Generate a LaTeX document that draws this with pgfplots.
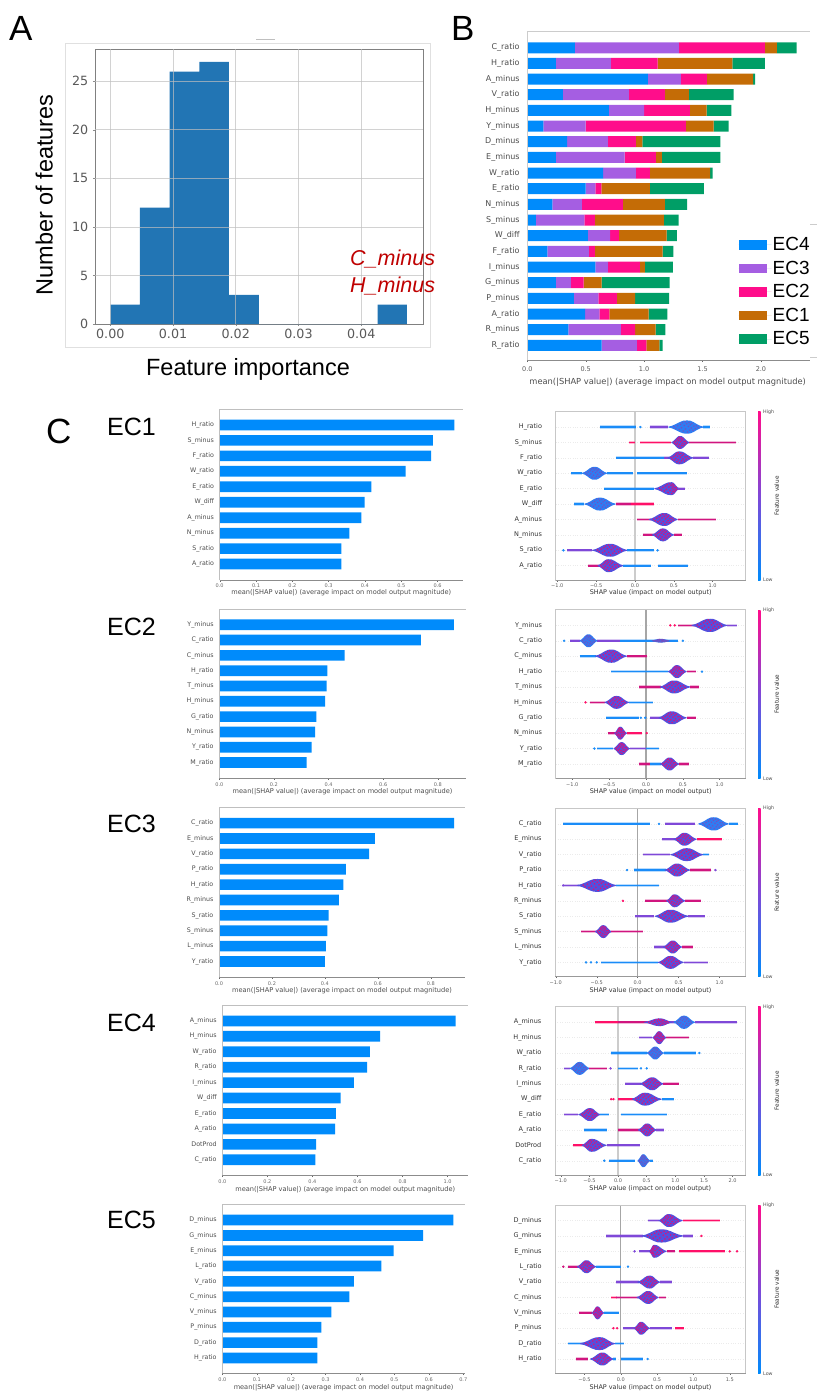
\documentclass[border=0pt]{standalone}
\usepackage{fontspec}
\setmainfont{DejaVu Sans}
\newfontfamily\ar{Liberation Sans}
\usepackage{pgfplots}
\usepackage{pgfplotstable}
\pgfplotsset{compat=1.18}
\definecolor{cEC4}{HTML}{008BFB}
\definecolor{cEC3}{HTML}{A55EE2}
\definecolor{cEC2}{HTML}{FF0D8B}
\definecolor{cEC1}{HTML}{C46C06}
\definecolor{cEC5}{HTML}{009E66}
\definecolor{histb}{HTML}{2275B4}
\definecolor{tb}{HTML}{1A8CF8}
\definecolor{tp}{HTML}{7F48D8}
\definecolor{tm}{HTML}{D0157F}
\definecolor{tr}{HTML}{FF1068}
\definecolor{vp}{HTML}{5350DE}
\definecolor{vb}{HTML}{2F7CF2}
\definecolor{spk}{HTML}{D8127F}
\definecolor{tickc}{HTML}{666666}
\newcommand\fs[1]{\fontsize{#1}{#1}\selectfont}
\pgfplotstableread{
t u
-1 .06
-.8 .2
-.6 .45
-.4 .75
-.2 .96
0 1
.2 .96
.4 .75
.6 .45
.8 .2
1 .06
1 -.06
.8 -.2
.6 -.45
.4 -.75
.2 -.96
0 -1
-.2 -.96
-.4 -.75
-.6 -.45
-.8 -.2
-1 -.06
}\vshape
\pgfplotstableread{
t u
-.7 .05
-.6 -.2
-.5 .2
-.42 -.35
-.35 .4
-.3 -.1
-.25 .65
-.2 -.6
-.15 .25
-.1 .8
-.08 -.3
-.02 .5
.03 -.75
.08 .1
.12 .7
.16 -.45
.2 .35
.26 -.15
.3 .55
.36 -.5
.42 .15
.5 -.25
.58 .2
.68 -.08
}\vspeck
\newcommand\tl[4]{\addplot[color=#4,opacity=.3,line width=3.2pt,forget plot] coordinates {(#2,#1)(#3,#1)};\addplot[color=#4,line width=1.7pt,forget plot] coordinates {(#2,#1)(#3,#1)};}
\newcommand\dt[3]{\addplot[only marks,mark=*,mark size=1pt,color=#3,forget plot] coordinates {(#2,#1)};}
% row, left, centre, right, half height, fill, speckle opacity
\newcommand\vl[7]{%
\addplot[fill=#6,draw=none,forget plot] table[x expr={\thisrow{t}<0 ? #3+\thisrow{t}*(#3-(#2)) : #3+\thisrow{t}*(#4-(#3))},y expr={#1+\thisrow{u}*#5}] {\vshape};
\addplot[only marks,mark=*,mark size=.6pt,color=spk,opacity=#7,forget plot] table[x expr={\thisrow{t}<0 ? #3+\thisrow{t}*(#3-(#2)) : #3+\thisrow{t}*(#4-(#3))},y expr={#1+\thisrow{u}*#5}] {\vspeck};}
\newcommand\zl[4]{\addplot[color=#1,line width=#2,forget plot] coordinates {(0,#3)(0,#4)};}
\newcommand\vP[5]{\vl{#1}{#2}{#3}{#4}{#5}{vp}{.9}}
\newcommand\vB[5]{\vl{#1}{#2}{#3}{#4}{#5}{vb}{.25}}
\newcommand\meanl{mean(|SHAP value|) (average impact on model output magnitude)}
\newcommand\shapl{SHAP value (impact on model output)}
\pgfplotsset{
 base/.style={scale only axis,axis line style={draw=none},tick align=outside,xtick pos=lower,ytick pos=left,
  ytick style={draw=none},xtick style={color=tickc,line width=.4pt},major tick length=1.5pt,
  tick label style={inner sep=0pt}},
 xlab/.style={xlabel style={at={(axis description cs:.5,0)},anchor=center,yshift=-#1,font=\fs{6.6},text=black!70}},
 xlabb/.style={xlabel style={at={(axis description cs:.5,0)},anchor=center,yshift=-#1,font=\fs{6.45},text=black!80}},
 spn/.style={after end axis/.code={
   \draw[color=#1,line width=.7pt] (rel axis cs:0,1)--(rel axis cs:1,1);
   \draw[color=#1,line width=.7pt] (rel axis cs:0,0)--(rel axis cs:0,1);
   \draw[color=black!45,line width=.9pt] (rel axis cs:0,0)--(rel axis cs:1,0);}},
 bee/.style={after end axis/.code={
   \draw[color=black!22,line width=.7pt] (rel axis cs:0,0) rectangle (rel axis cs:1,1);
   \draw[color=black!40,line width=.9pt] (rel axis cs:0,0)--(rel axis cs:1,0);}},
 shapbar/.style={base,spn=black!25,xbar,bar shift=0pt,bar width=10.7pt,ytick={0,...,9},ymin=-1.03,ymax=10.03,
  yticklabel style={font=\fs{6.3},text=black!70,xshift=-4pt},xticklabel style={font=\fs{5},text=black!60,yshift=-2.5pt}},
 shapbee/.style={base,bee,ytick={0,...,9},ymajorgrids,grid style={color=black!8,dotted,line width=.4pt},
  yticklabel style={font=\fs{6.5},text=black!80,xshift=-12pt},xticklabel style={font=\fs{5},text=black!65,yshift=-2.5pt},
  width=190pt,height=168.5pt},
}
\newcommand\cbar[2]{%
 \shade[bottom color=cEC4,top color=cEC2,middle color=tp] (758pt,-#2pt) rectangle (760.5pt,-#1pt);
 \node[anchor=west,inner sep=0pt,font=\fs{4.8},text=black!70] at (763pt,-#1pt) {High};
 \node[anchor=west,inner sep=0pt,font=\fs{4.8},text=black!70] at (763pt,-#2pt) {Low};
 \pgfmathsetmacro\mid{(#1+#2)/2}
 \node[rotate=90,inner sep=0pt,font=\fs{5.7},text=black!85] at (776.7pt,-\mid pt) {Feature value};}
\pgfplotstableread{
row ec4 ec3 ec2 ec1 ec5
19 .408 .890 .736 .103 .168
18 .245 .471 .400 .639 .279
17 1.033 .282 .223 .396 .017
16 .305 .565 .308 .206 .382
15 .699 .300 .393 .143 .211
14 .137 .362 .859 .237 .128
13 .340 .350 .240 .054 .668
12 .245 .588 .268 .052 .499
11 .650 .280 .120 .516 .020
10 .499 .083 .051 .417 .462
9 .214 .254 .351 .359 .191
8 .074 .414 .091 .591 .125
7 .519 .189 .079 .406 .088
6 .171 .357 .051 .579 .092
5 .582 .108 .274 .043 .240
4 .245 .129 .108 .154 .582
3 .399 .209 .159 .157 .291
2 .496 .120 .086 .337 .159
1 .351 .451 .120 .176 .083
0 .636 .303 .080 .111 .028
}\tabB
\begin{document}
\begin{tikzpicture}
\useasboundingbox (0,0) rectangle (817pt,-1393pt);
% panel letters
\node[anchor=west,inner sep=0pt,font=\ar\fs{35}] at (9pt,-28pt) {A};
\node[anchor=west,inner sep=0pt,font=\ar\fs{35}] at (451pt,-28pt) {B};
\node[anchor=west,inner sep=0pt,font=\ar\fs{35}] at (46pt,-431pt) {C};
\node[anchor=west,inner sep=0pt,font=\ar\fs{25}] at (107pt,-426.7pt) {EC1};
\node[anchor=west,inner sep=0pt,font=\ar\fs{25}] at (107pt,-626.7pt) {EC2};
\node[anchor=west,inner sep=0pt,font=\ar\fs{25}] at (107pt,-824pt) {EC3};
\node[anchor=west,inner sep=0pt,font=\ar\fs{25}] at (107pt,-1022.7pt) {EC4};
\node[anchor=west,inner sep=0pt,font=\ar\fs{25}] at (107pt,-1220.3pt) {EC5};
% A
\draw[color=black!12,line width=.7pt] (65.7pt,-43pt) rectangle (430pt,-347pt);
\draw[color=black!25,line width=.7pt] (256pt,-39.5pt)--(275pt,-39.5pt);
\begin{axis}[scale only axis,at={(95pt,-324pt)},anchor=south west,width=328.3pt,height=274.7pt,
 xmin=-.00244,xmax=.0499,ymin=0,ymax=28.3,scaled x ticks=false,
 xtick={0,.01,.02,.03,.04},xticklabels={0.00,0.01,0.02,0.03,0.04},ytick={0,5,10,15,20,25},
 /pgf/number format/assume math mode=true,
 tick label style={font=\fs{12.7},text=black!65,inner sep=0pt},xticklabel style={yshift=-3pt},yticklabel style={xshift=-4.5pt},
 tick align=outside,major tick length=2pt,tick style={color=black!45,line width=.5pt},xtick pos=lower,ytick pos=left,
 axis line style={color=black!50,line width=.9pt},
 xlabel={Feature importance},ylabel={Number of features},
 xlabel style={at={(axis description cs:.466,-.164)},anchor=center,font=\ar\fs{23.5},text=black},
 ylabel style={at={(axis description cs:-.155,.47)},anchor=center,font=\ar\fs{23.5},text=black},
 after end axis/.code={
  \foreach \gx in {.01,.02,.03,.04,0}{\draw[color=black!25,opacity=.7,line width=.8pt] (axis cs:\gx,0)--(axis cs:\gx,28.3);}
  \foreach \gy in {5,10,15,20,25}{\draw[color=black!25,opacity=.7,line width=.8pt] (axis cs:-.00244,\gy)--(axis cs:.0499,\gy);}}]
\addplot[ybar interval,fill=histb,draw=none] coordinates {(0,2)(.00473,12)(.00946,26)(.0142,27)(.0189,3)(.0237,0)(.0284,0)(.0331,0)(.0378,0)(.0426,2)(.0473,2)};
\end{axis}
\node[anchor=west,inner sep=0pt,font=\ar\itshape\fs{21.5},text=red!75!black] at (350pt,-259pt) {C\_minus};
\node[anchor=west,inner sep=0pt,font=\ar\itshape\fs{21.5},text=red!75!black] at (350pt,-286pt) {H\_minus};
% B
\begin{axis}[base,at={(527.3pt,-360.7pt)},anchor=south west,width=282.7pt,height=329.4pt,
 xbar stacked,bar width=11pt,xmin=0,xmax=2.42,ymin=-.98,ymax=20.05,
 spn=black!20,
 xtick={0,.5,1,1.5,2},xticklabels={0.0,0.5,1.0,1.5,2.0},ytick={0,...,19},
 yticklabels={R\_ratio,R\_minus,A\_ratio,P\_minus,G\_minus,I\_minus,F\_ratio,W\_diff,S\_minus,N\_minus,E\_ratio,W\_ratio,E\_minus,D\_minus,Y\_minus,H\_minus,V\_ratio,A\_minus,H\_ratio,C\_ratio},
 yticklabel style={font=\fs{8},text=black!70,xshift=-6pt},xticklabel style={font=\fs{6.5},text=black!65,yshift=-4.5pt},
 xlabel={\meanl},xlabel style={at={(axis description cs:.5,0)},anchor=center,yshift=-22pt,xshift=-1pt,font=\fs{8.3},text=black!70},
 legend style={at={(rel axis cs:.747,.378)},anchor=north west,draw=none,fill=none,font=\ar\fs{19},inner sep=0pt,row sep=6.8pt,nodes={inner sep=1pt}},
 legend cell align=left,
 legend image code/.code={\fill[#1] (0pt,-4.75pt) rectangle (28pt,4.75pt);\path (0pt,0pt)--(33pt,0pt);}]
\addplot[fill=cEC4,draw=none] table[x=ec4,y=row] {\tabB};
\addplot[fill=cEC3,draw=none] table[x=ec3,y=row] {\tabB};
\addplot[fill=cEC2,draw=none] table[x=ec2,y=row] {\tabB};
\addplot[fill=cEC1,draw=none] table[x=ec1,y=row] {\tabB};
\addplot[fill=cEC5,draw=none] table[x=ec5,y=row] {\tabB};
\legend{EC4,EC3,EC2,EC1,EC5}
\end{axis}
\draw[color=black!20,line width=.7pt] (810pt,-224.7pt)--(817pt,-224.7pt);
\draw[color=black!20,line width=.7pt] (810pt,-357.5pt)--(817pt,-357.5pt);
% EC1 bars
\begin{axis}[shapbar,at={(219.7pt,-580pt)},anchor=south west,width=243.3pt,height=171pt,xmin=0,xmax=.67,
 ymin=-1.03,ymax=10.03,xtick={0,.1,.2,.3,.4,.5,.6},xticklabels={0.0,0.1,0.2,0.3,0.4,0.5,0.6},
 yticklabels={A\_ratio,S\_ratio,N\_minus,A\_minus,W\_diff,E\_ratio,W\_ratio,F\_ratio,S\_minus,H\_ratio},
 xlab=13pt,xlabel={\meanl}]
\addplot[fill=cEC4,draw=none] coordinates {(.335,0)(.335,1)(.357,2)(.390,3)(.399,4)(.418,5)(.512,6)(.582,7)(.587,8)(.646,9)};
\end{axis}
% EC2 bars
\begin{axis}[shapbar,at={(219.3pt,-778.3pt)},anchor=south west,width=246.7pt,height=169.3pt,xmin=0,xmax=.903,
 xtick={0,.2,.4,.6,.8},xticklabels={0.0,0.2,0.4,0.6,0.8},
 yticklabels={M\_ratio,Y\_ratio,N\_minus,G\_ratio,H\_minus,T\_minus,H\_ratio,C\_minus,C\_ratio,Y\_minus},
 xlab=13.4pt,xlabel={\meanl}]
\addplot[fill=cEC4,draw=none] coordinates {(.320,0)(.338,1)(.351,2)(.355,3)(.387,4)(.393,5)(.396,6)(.459,7)(.738,8)(.859,9)};
\end{axis}
% EC3 bars
\begin{axis}[shapbar,at={(219pt,-977.3pt)},anchor=south west,width=246pt,height=170pt,xmin=0,xmax=.929,
 xtick={0,.2,.4,.6,.8},xticklabels={0.0,0.2,0.4,0.6,0.8},
 yticklabels={Y\_ratio,L\_minus,S\_minus,S\_ratio,R\_minus,H\_ratio,P\_ratio,V\_ratio,E\_minus,C\_ratio},
 xlab=13.7pt,xlabel={\meanl}]
\addplot[fill=cEC4,draw=none] coordinates {(.400,0)(.404,1)(.409,2)(.414,3)(.453,4)(.470,5)(.479,6)(.567,7)(.589,8)(.888,9)};
\end{axis}
% EC4 bars
\begin{axis}[shapbar,at={(222.3pt,-1175.7pt)},anchor=south west,width=246pt,height=170.7pt,xmin=0,xmax=1.092,
 xtick={0,.2,.4,.6,.8,1},xticklabels={0.0,0.2,0.4,0.6,0.8,1.0},
 yticklabels={C\_ratio,DotProd,A\_ratio,E\_ratio,W\_diff,I\_minus,R\_ratio,W\_ratio,H\_minus,A\_minus},
 xlab=13.6pt,xlabel={\meanl}]
\addplot[fill=cEC4,draw=none] coordinates {(.413,0)(.417,1)(.501,2)(.504,3)(.525,4)(.584,5)(.643,6)(.655,7)(.701,8)(1.036,9)};
\end{axis}
% EC5 bars
\begin{axis}[shapbar,at={(222.3pt,-1373.7pt)},anchor=south west,width=242.7pt,height=169.4pt,xmin=0,xmax=.705,
 xtick={0,.1,.2,.3,.4,.5,.6,.7},xticklabels={0.0,0.1,0.2,0.3,0.4,0.5,0.6,0.7},
 yticklabels={H\_ratio,D\_ratio,P\_minus,V\_minus,C\_minus,V\_ratio,L\_ratio,E\_minus,G\_minus,D\_minus},
 xlab=13.6pt,xlabel={\meanl}]
\addplot[fill=cEC4,draw=none] coordinates {(.276,0)(.276,1)(.288,2)(.317,3)(.369,4)(.382,5)(.462,6)(.498,7)(.583,8)(.671,9)};
\end{axis}
% EC1 swarm
\begin{axis}[shapbee,at={(555.7pt,-580pt)},anchor=south west,xmin=-1.02,xmax=1.425,ymin=-.93,ymax=10.01,
 xtick={-1,-.5,0,.5,1},xticklabels={−1.0,−0.5,0.0,0.5,1.0},
 yticklabels={A\_ratio,S\_ratio,N\_minus,A\_minus,W\_diff,E\_ratio,W\_ratio,F\_ratio,S\_minus,H\_ratio},
 xlabb=13pt,xlabel={\shapl}]
\zl{black!20}{2pt}{-.93}{10.01}
\tl{9}{-.45}{.01}{tb}\dt{9}{.07}{tb}\tl{9}{.19}{.43}{tp}\vB{9}{.43}{.67}{.88}{.43}\tl{9}{.88}{.96}{tb}
\tl{8}{-.08}{0}{tr}\tl{8}{.07}{.47}{tr}\vP{8}{.47}{.58}{.70}{.42}\tl{8}{.70}{1.3}{tm}
\tl{7}{-.25}{.38}{tb}\tl{7}{.38}{.45}{tp}\vP{7}{.42}{.57}{.75}{.42}\tl{7}{.75}{.95}{tp}
\tl{6}{-.82}{-.68}{tb}\vB{6}{-.68}{-.52}{-.36}{.42}\tl{6}{-.36}{-.02}{tb}\tl{6}{.03}{.67}{tb}
\tl{5}{-.4}{0}{tb}\tl{5}{0}{.25}{tb}\vP{5}{.25}{.47}{.57}{.42}\tl{5}{.55}{.65}{tp}
\tl{4}{-.78}{-.65}{tb}\vB{4}{-.65}{-.45}{-.25}{.42}\tl{4}{-.25}{-.05}{tm}\tl{4}{-.05}{.24}{tr}
\tl{3}{.02}{.2}{tm}\vP{3}{.18}{.38}{.55}{.42}\tl{3}{.55}{1.04}{tm}
\tl{2}{.10}{.25}{tm}\vP{2}{.22}{.36}{.50}{.42}\tl{2}{.5}{.6}{tm}
\dt{1}{-.92}{tb}\tl{1}{-.87}{-.55}{tp}\vP{1}{-.55}{-.32}{-.1}{.42}\tl{1}{-.1}{.25}{tb}\dt{1}{.29}{tb}
\tl{0}{-.6}{-.45}{tm}\vP{0}{-.48}{-.34}{-.15}{.42}\tl{0}{-.15}{.2}{tb}\tl{0}{.3}{.68}{tb}
\end{axis}
% EC2 swarm
\begin{axis}[shapbee,at={(555.7pt,-778.3pt)},anchor=south west,xmin=-1.225,xmax=1.353,ymin=-.93,ymax=10.01,
 xtick={-1,-.5,0,.5,1},xticklabels={−1.0,−0.5,0.0,0.5,1.0},
 yticklabels={M\_ratio,Y\_ratio,N\_minus,G\_ratio,H\_minus,T\_minus,H\_ratio,C\_minus,C\_ratio,Y\_minus},
 xlabb=13.4pt,xlabel={\shapl}]
\zl{black!35}{1.2pt}{-.93}{10.01}
\dt{9}{.33}{tr}\dt{9}{.39}{tr}\tl{9}{.43}{.7}{tm}\vP{9}{.62}{.87}{1.1}{.43}\tl{9}{1.1}{1.24}{tp}
\dt{8}{-1.11}{tb}\tl{8}{-1.03}{-.9}{tp}\tl{8}{-.66}{-.35}{tp}\tl{8}{-.35}{.43}{tb}\vB{8}{-.9}{-.78}{-.66}{.42}\vB{8}{.05}{.2}{.35}{.12}\dt{8}{.5}{tb}
\tl{7}{-.9}{-.68}{tb}\vP{7}{-.69}{-.47}{-.26}{.43}\tl{7}{-.26}{.02}{tm}
\tl{6}{-.47}{.3}{tb}\vP{6}{.30}{.42}{.55}{.42}\tl{6}{.55}{.68}{tm}\dt{6}{.76}{tb}
\tl{5}{-.09}{.2}{tm}\vP{5}{.19}{.38}{.6}{.42}\tl{5}{.6}{.72}{tm}
\dt{4}{-.82}{tr}\tl{4}{-.76}{-.55}{tm}\vP{4}{-.56}{-.4}{-.23}{.42}\tl{4}{-.23}{.1}{tb}
\tl{3}{-.54}{-.1}{tb}\dt{3}{-.07}{tb}\dt{3}{-.01}{tb}\tl{3}{.06}{.2}{tp}\vP{3}{.17}{.35}{.55}{.42}\tl{3}{.55}{.68}{tm}
\tl{2}{-.52}{-.4}{tm}\vP{2}{-.43}{-.35}{-.26}{.42}\tl{2}{-.26}{-.05}{tr}\dt{2}{.01}{tr}
\dt{1}{-.7}{tb}\tl{1}{-.66}{-.45}{tb}\vP{1}{-.44}{-.33}{-.22}{.42}\tl{1}{-.22}{0}{tp}\tl{1}{0}{.18}{tb}
\tl{0}{-.1}{.05}{tm}\tl{0}{.05}{.2}{tb}\vP{0}{.19}{.32}{.45}{.42}\tl{0}{.45}{.59}{tm}
\end{axis}
% EC3 swarm
\begin{axis}[shapbee,at={(555.3pt,-976.7pt)},anchor=south west,xmin=-1.006,xmax=1.319,ymin=-.93,ymax=10.01,height=168.4pt,width=190.4pt,
 xtick={-1,-.5,0,.5,1},xticklabels={−1.0,−0.5,0.0,0.5,1.0},
 yticklabels={Y\_ratio,L\_minus,S\_minus,S\_ratio,R\_minus,H\_ratio,P\_ratio,V\_ratio,E\_minus,C\_ratio},
 xlabb=13.7pt,xlabel={\shapl}]
\zl{black!35}{1.2pt}{-.93}{10.01}
\tl{9}{-.91}{.15}{tb}\dt{9}{.26}{tb}\tl{9}{.33}{.7}{tp}\vB{9}{.74}{.93}{1.11}{.43}\tl{9}{1.11}{1.22}{tb}
\tl{8}{.3}{.5}{tp}\vP{8}{.44}{.57}{.72}{.42}\tl{8}{.72}{1.03}{tr}
\tl{7}{.06}{.4}{tp}\vP{7}{.4}{.6}{.8}{.42}\tl{7}{.8}{.87}{tb}
\dt{6}{-.13}{tb}\tl{6}{-.05}{.35}{tb}\vP{6}{.33}{.48}{.64}{.42}\tl{6}{.64}{.9}{tm}\dt{6}{.95}{tp}
\dt{5}{-.91}{tp}\tl{5}{-.9}{-.72}{tp}\vP{5}{-.74}{-.49}{-.26}{.42}\tl{5}{-.26}{.26}{tb}
\dt{4}{-.18}{tr}\tl{4}{.09}{.4}{tm}\vP{4}{.35}{.45}{.58}{.42}\tl{4}{.58}{.77}{tm}
\tl{3}{-.03}{.2}{tp}\vP{3}{.21}{.4}{.62}{.42}\tl{3}{.62}{.82}{tp}
\tl{2}{-.69}{-.5}{tm}\vP{2}{-.52}{-.42}{-.32}{.42}\tl{2}{-.32}{.07}{tm}
\tl{1}{.2}{.33}{tp}\vP{1}{.31}{.43}{.54}{.42}\tl{1}{.54}{.67}{tm}
\dt{0}{-.63}{tb}\dt{0}{-.57}{tb}\dt{0}{-.5}{tb}\tl{0}{-.45}{.25}{tb}\vP{0}{.25}{.4}{.56}{.42}\tl{0}{.56}{.86}{tp}
\end{axis}
% EC4 swarm
\begin{axis}[shapbee,at={(555pt,-1175pt)},anchor=south west,xmin=-1.1,xmax=2.228,ymin=-.93,ymax=10.01,width=190.7pt,height=168.3pt,
 xtick={-1,-.5,0,.5,1,1.5,2},xticklabels={−1.0,−0.5,0.0,0.5,1.0,1.5,2.0},
 yticklabels={C\_ratio,DotProd,A\_ratio,E\_ratio,W\_diff,I\_minus,R\_ratio,W\_ratio,H\_minus,A\_minus},
 xlabb=13.6pt,xlabel={\shapl}]
\zl{black!20}{2pt}{-.93}{10.01}
\tl{9}{-.41}{0}{tr}\tl{9}{0}{.5}{tm}\tl{9}{.5}{1}{tp}\vP{9}{.45}{.73}{.95}{.25}\vB{9}{.97}{1.15}{1.34}{.43}\tl{9}{1.34}{2.07}{tp}
\tl{8}{.36}{.6}{tp}\vP{8}{.6}{.72}{.84}{.42}\tl{8}{.84}{1.24}{tm}
\tl{7}{-.13}{.5}{tb}\vB{7}{.5}{.65}{.8}{.42}\tl{7}{.8}{1.36}{tb}\dt{7}{1.42}{tb}
\tl{6}{-.95}{-.83}{tp}\vB{6}{-.84}{-.67}{-.5}{.42}\tl{6}{-.5}{-.2}{tm}\dt{6}{-.13}{tp}\tl{6}{0}{.35}{tb}\dt{6}{.4}{tb}\dt{6}{.5}{tb}
\tl{5}{.13}{.4}{tp}\vP{5}{.38}{.6}{.79}{.42}\tl{5}{.79}{1.07}{tm}
\dt{4}{-.12}{tr}\dt{4}{-.08}{tr}\tl{4}{0}{.3}{tr}\vP{4}{.24}{.47}{.76}{.42}\tl{4}{.76}{.98}{tb}
\tl{3}{-.95}{-.7}{tp}\vP{3}{-.69}{-.49}{-.31}{.42}\tl{3}{-.31}{-.15}{tb}\tl{3}{.05}{.85}{tb}
\tl{2}{-.6}{-.2}{tb}\tl{2}{0}{.4}{tm}\vP{2}{.35}{.51}{.67}{.42}\tl{2}{.67}{.8}{tp}
\tl{1}{-.78}{-.6}{tr}\vP{1}{-.63}{-.46}{-.2}{.42}\tl{1}{-.2}{.38}{tp}
\dt{0}{-.24}{tb}\tl{0}{-.16}{.3}{tb}\vB{0}{.34}{.44}{.56}{.42}\tl{0}{.56}{.61}{tb}
\end{axis}
% EC5 swarm
\begin{axis}[shapbee,at={(555.3pt,-1373.3pt)},anchor=south west,xmin=-.9,xmax=1.719,ymin=-.93,ymax=10.01,width=190.4pt,height=168.3pt,
 xtick={-.5,0,.5,1,1.5},xticklabels={−0.5,0.0,0.5,1.0,1.5},
 yticklabels={H\_ratio,D\_ratio,P\_minus,V\_minus,C\_minus,V\_ratio,L\_ratio,E\_minus,G\_minus,D\_minus},
 xlabb=14pt,xlabel={\shapl}]
\zl{black!35}{1.2pt}{-.93}{10.01}
\tl{9}{.37}{.53}{tp}\vP{9}{.52}{.66}{.85}{.42}\tl{9}{.85}{1.37}{tr}
\tl{8}{-.2}{.3}{tp}\vP{8}{.29}{.56}{.86}{.43}\tl{8}{.86}{1}{tp}\dt{8}{1.11}{tr}
\dt{7}{.19}{tp}\tl{7}{.25}{.4}{tp}\vP{7}{.39}{.46}{.63}{.42}\tl{7}{.63}{.75}{tm}\tl{7}{.8}{1.43}{tr}\dt{7}{1.5}{tr}\dt{7}{1.6}{tr}
\dt{6}{-.79}{tm}\tl{6}{-.73}{-.58}{tm}\vP{6}{-.6}{-.47}{-.34}{.42}\tl{6}{-.34}{0}{tb}\dt{6}{.1}{tb}
\tl{5}{-.06}{.25}{tp}\vP{5}{.23}{.4}{.54}{.42}\tl{5}{.54}{.7}{tp}
\tl{4}{-.13}{-.05}{tr}\tl{4}{-.07}{.24}{tm}\vP{4}{.22}{.38}{.52}{.42}\tl{4}{.52}{.62}{tm}
\tl{3}{-.58}{-.4}{tm}\vP{3}{-.4}{-.32}{-.23}{.42}\tl{3}{-.23}{-.03}{tb}
\dt{2}{-.1}{tr}\dt{2}{-.05}{tr}\tl{2}{.03}{.2}{tp}\vP{2}{.18}{.28}{.4}{.42}\tl{2}{.4}{.7}{tp}\tl{2}{.75}{.87}{tr}
\tl{1}{-.73}{-.5}{tb}\vP{1}{-.56}{-.29}{-.08}{.42}\tl{1}{-.08}{.05}{tb}
\tl{0}{-.62}{-.45}{tm}\vP{0}{-.42}{-.25}{-.1}{.42}\tl{0}{-.1}{-.07}{tb}\tl{0}{0}{.3}{tb}\dt{0}{.37}{tb}
\end{axis}
\cbar{411.7}{580}
\cbar{610}{778.3}
\cbar{808.3}{976.7}
\cbar{1006.7}{1175}
\cbar{1205}{1373.3}
\end{tikzpicture}
\end{document}
